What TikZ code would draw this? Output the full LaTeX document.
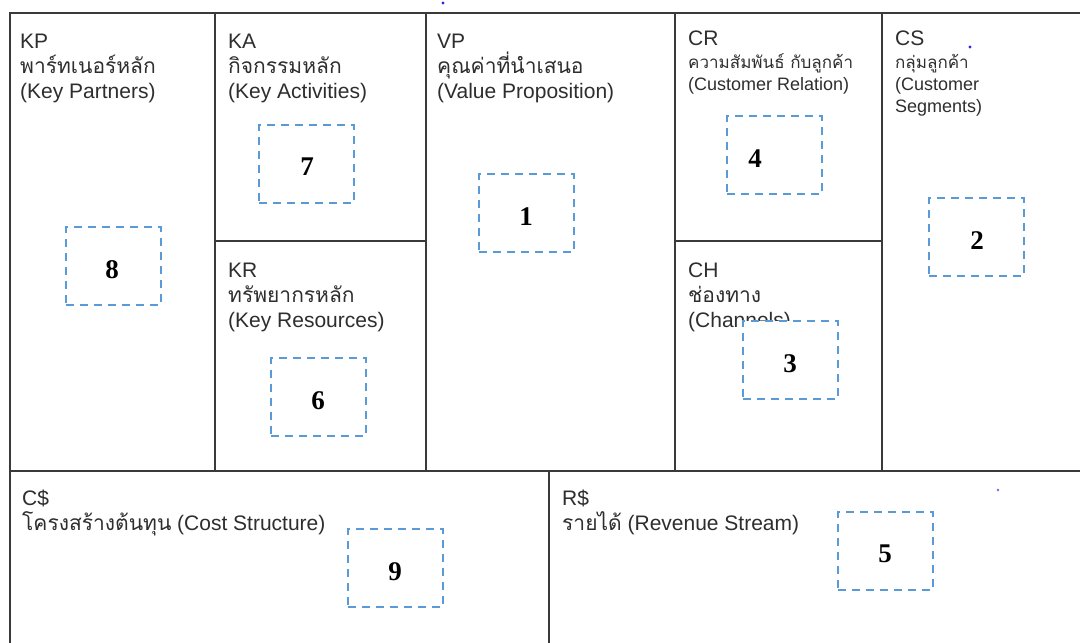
\documentclass[tikz,border=0pt]{standalone}
\usepackage{fontspec}
\setmainfont{Liberation Sans}
\newfontfamily\thai[Script=Thai]{Loma}
\newfontfamily\numfont{Liberation Serif}
\definecolor{dashblue}{HTML}{5B9BD5}
\definecolor{gridcol}{HTML}{3A3A3A}
\definecolor{txt}{HTML}{2E2E2E}
\definecolor{dotblue}{HTML}{2A2AE0}
\begin{document}
\begin{tikzpicture}[x=1pt,y=-1pt,
  grid/.style={draw=gridcol, line width=1.8pt},
  dbox/.style={draw=dashblue, line width=2pt, dash pattern=on 8pt off 6pt, fill=white,
    minimum width=95pt, minimum height=78pt, inner sep=0pt},
  lbl/.style={anchor=base west, inner sep=0pt, text=txt, font=\fontsize{21}{25}\selectfont},
  slbl/.style={anchor=base west, inner sep=0pt, text=txt, font=\fontsize{18}{21}\selectfont},
  sthai/.style={anchor=base west, inner sep=0pt, text=txt, font=\thai\fontsize{17}{20}\selectfont},
  num/.style={inner sep=0pt, font=\numfont\bfseries\fontsize{27}{27}\selectfont}]
\useasboundingbox (0,0) rectangle (1080,643);
\fill[white] (0,0) rectangle (1080,643);

% grid
\draw[grid] (10,643) -- (10,13) -- (1080,13);
\draw[grid] (10,471) -- (1080,471);
\draw[grid] (215,13) -- (215,471);
\draw[grid] (426,13) -- (426,471);
\draw[grid] (675,13) -- (675,471);
\draw[grid] (882,13) -- (882,471);
\draw[grid] (215,241) -- (426,241);
\draw[grid] (675,241) -- (882,241);
\draw[grid] (549,471) -- (549,643);

% labels
\node[lbl] (kp1) at (20,48) {KP};
\node[lbl] (kp2) at (20,73) {\thai พาร์ทเนอร์หลัก};
\node[lbl] (kp3) at (20,98) {(Key Partners)};

\node[lbl] (ka1) at (228,48) {KA};
\node[lbl] (ka2) at (228,73) {\thai กิจกรรมหลัก};
\node[lbl] (ka3) at (228,98) {(Key Activities)};

\node[lbl] (vp1) at (437,48) {VP};
\node[lbl] (vp2) at (437,73) {\thai คุณค่าที่นำเสนอ};
\node[lbl] (vp3) at (437,98) {(Value Proposition)};

\node[lbl] (cr1) at (688,45) {CR};
\node[sthai] (cr2) at (688,68) {ความสัมพันธ์ กับลูกค้า};
\node[slbl] (cr3) at (688,90) {(Customer Relation)};

\node[lbl] (cs1) at (895,45) {CS};
\node[sthai] (cs2) at (895,68) {กลุ่มลูกค้า};
\node[slbl] (cs3) at (895,90) {(Customer};
\node[slbl] (cs4) at (895,112) {Segments)};

\node[lbl] (kr1) at (228,277) {KR};
\node[lbl] (kr2) at (228,302) {\thai ทรัพยากรหลัก};
\node[lbl] (kr3) at (228,327) {(Key Resources)};

\node[lbl] (ch1) at (688,277) {CH};
\node[lbl] (ch2) at (688,302) {\thai ช่องทาง};
\node[lbl] (ch3) at (688,327) {(Channels)};

\node[lbl] (co1) at (22,505) {C\$};
\node[lbl] (co2) at (22,530) {{\thai โครงสร้างต้นทุน} (Cost Structure)};

\node[lbl] (re1) at (562,505) {R\$};
\node[lbl] (re2) at (562,530) {{\thai รายได้} (Revenue Stream)};

% dashed boxes
\node[dbox] (b8) at (113,266) {};
\node[dbox] (b7) at (306.5,164) {};
\node[dbox] (b6) at (318.5,396.5) {};
\node[dbox] (b1) at (526.5,213) {};
\node[dbox] (b4) at (774.5,155) {};
\node[dbox] (b2) at (976.5,237) {};
\node[dbox] (b3) at (790.5,360) {};
\node[dbox] (b9) at (395,568) {};
\node[dbox] (b5) at (885,550.5) {};

\node[num] (n8) at (112,270) {8};
\node[num] (n7) at (307,167) {7};
\node[num] (n6) at (318,401) {6};
\node[num] (n1) at (526,217) {1};
\node[num] (n4) at (755,159) {4};
\node[num] (n2) at (977,241) {2};
\node[num] (n3) at (790,364) {3};
\node[num] (n9) at (395,572) {9};
\node[num] (n5) at (885,554) {5};

% stray dots
\fill[dotblue] (443,3) circle (1.6);
\fill[dotblue] (970,47) circle (1.6);
\fill[dotblue!70] (998,490) circle (1.4);
\end{tikzpicture}
\end{document}
